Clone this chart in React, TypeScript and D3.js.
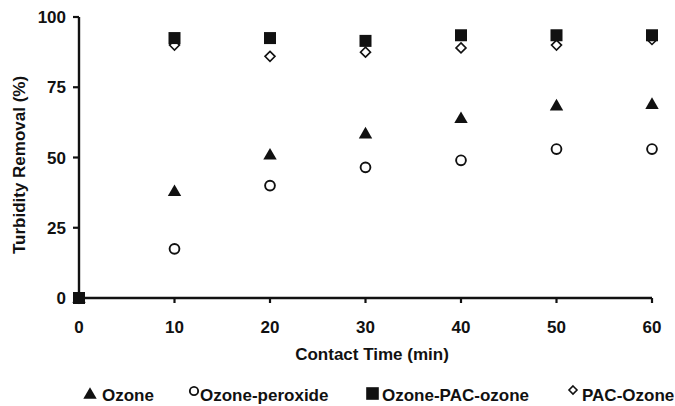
import React from "react";
import * as d3 from "d3";

const times = [0, 10, 20, 30, 40, 50, 60];
const ozone = [0, 38, 51, 58.5, 64, 68.5, 69];
const ozonePeroxide = [0, 17.5, 40, 46.5, 49, 53, 53];
const ozonePacOzone = [0, 92.5, 92.5, 91.5, 93.5, 93.5, 93.5];
const pacOzone = [0, 90, 86, 87.5, 89, 90, 92];
const xTicks = [0, 10, 20, 30, 40, 50, 60];
const yTicks = [0, 25, 50, 75, 100];
const seriesNames = ["Ozone", "Ozone-peroxide", "Ozone-PAC-ozone", "PAC-Ozone"];

const W = 675, H = 406;
const x = d3.scaleLinear().domain([0, 60]).range([79, 652]);
const y = d3.scaleLinear().domain([0, 100]).range([298, 17]);
const font = "'Liberation Sans', Arial, sans-serif";

function Marker({ kind, cx, cy, s = 1 }: { kind: number; cx: number; cy: number; s?: number }) {
  if (kind === 0) {
    const p = d3.symbol().type(d3.symbolTriangle).size(78 * s * s)();
    return <path d={p as string} transform={`translate(${cx},${cy + 1})`} fill="#111" />;
  }
  if (kind === 1) return <circle cx={cx} cy={cy} r={4.9 * s} fill="#fff" stroke="#111" strokeWidth={1.9} />;
  if (kind === 2) return <rect x={cx - 6 * s} y={cy - 6 * s} width={12 * s} height={12 * s} fill="#111" />;
  const r = 5 * s;
  return (
    <path
      d={`M${cx},${cy - r} L${cx + r},${cy} L${cx},${cy + r} L${cx - r},${cy} Z`}
      fill="#fff"
      stroke="#111"
      strokeWidth={1.6}
    />
  );
}

export default function App() {
  const series = [ozone, ozonePeroxide, ozonePacOzone, pacOzone];
  const drawOrder = [0, 1, 3, 2];
  const legendMarker = [[90, 394, 1.0], [194, 391, 0.85], [372.5, 393.5, 1.05], [573, 390, 0.8]];
  const legendText = [102, 200, 382, 582];
  return (
    <svg width={W} height={H} style={{ position: "absolute", left: 0, top: 0, background: "#fff" }}>
      <rect width={W} height={H} fill="#fff" />
      <line x1={x(0)} x2={x(0)} y1={y(100)} y2={y(0)} stroke="#111" strokeWidth={2.4} />
      <line x1={x(0)} x2={x(60)} y1={y(0)} y2={y(0)} stroke="#111" strokeWidth={2.4} />
      {yTicks.map((t) => (
        <g key={"y" + t}>
          <line x1={x(0) - 6} x2={x(0)} y1={y(t)} y2={y(t)} stroke="#111" strokeWidth={2.2} />
          <text x={x(0) - 13} y={y(t)} dy="0.36em" textAnchor="end" fontFamily={font} fontWeight="bold" fontSize={17} fill="#111">
            {t}
          </text>
        </g>
      ))}
      {xTicks.map((t) => (
        <g key={"x" + t}>
          <line x1={x(t)} x2={x(t)} y1={y(0)} y2={y(0) + 5} stroke="#111" strokeWidth={2.2} />
          <text x={x(t)} y={y(0) + 35} textAnchor="middle" fontFamily={font} fontWeight="bold" fontSize={17} fill="#111">
            {t}
          </text>
        </g>
      ))}
      <text x={372} y={360} textAnchor="middle" fontFamily={font} fontWeight="bold" fontSize={17} fill="#111">
        Contact Time (min)
      </text>
      <text
        transform={`translate(25,165) rotate(-90)`}
        textAnchor="middle"
        fontFamily={font}
        fontWeight="bold"
        fontSize={17}
        fill="#111"
      >
        Turbidity Removal (%)
      </text>
      {drawOrder.map((si) =>
        series[si].map((v, i) => <Marker key={si + "-" + i} kind={si} cx={x(times[i])} cy={y(v)} />)
      )}
      {seriesNames.map((n, i) => (
        <g key={n}>
          <Marker kind={i} cx={legendMarker[i][0]} cy={legendMarker[i][1]} s={legendMarker[i][2]} />
          <text x={legendText[i]} y={401} fontFamily={font} fontWeight="bold" fontSize={17} fill="#111">
            {n}
          </text>
        </g>
      ))}
    </svg>
  );
}
